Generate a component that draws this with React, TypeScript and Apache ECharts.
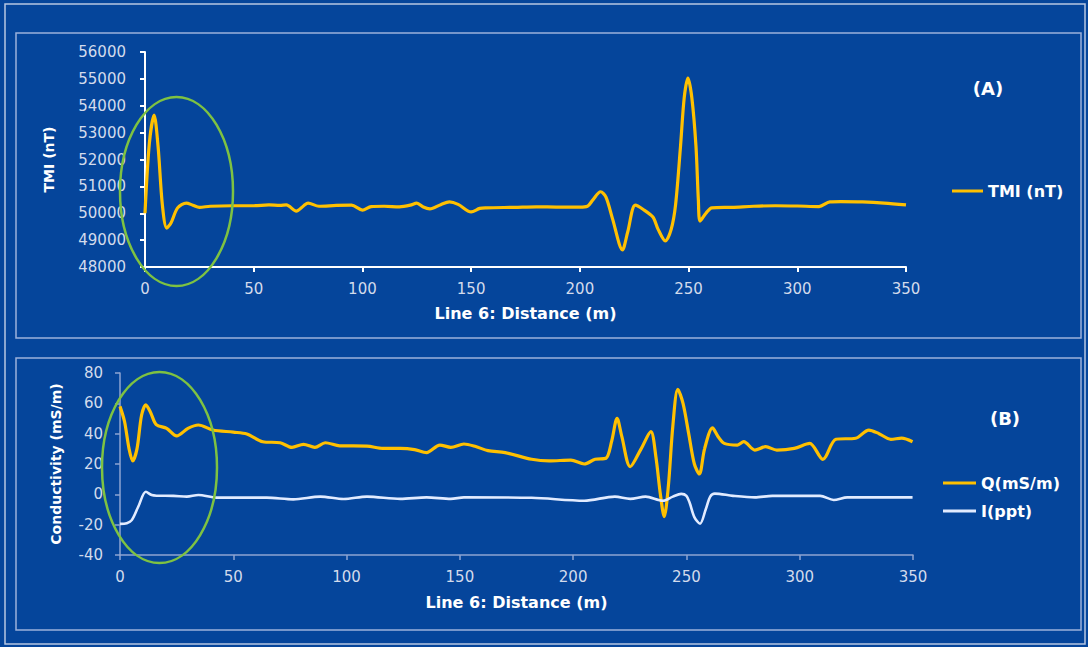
import React, { useEffect, useRef } from "react";
import * as echarts from "echarts";

// ---------- Data ----------
const tmiDist = [0, 2, 4.2, 6, 8, 10, 12, 15, 19, 22, 25, 30, 40, 50, 57, 62, 65, 69.6, 73, 75, 80, 88, 95, 100, 104, 110, 117, 122, 125, 128, 131, 136, 140, 144, 150, 154, 157, 170, 180, 190, 200, 203.5, 206, 209.5, 212, 215, 219.6, 222, 225.5, 229, 233.6, 236, 239.3, 242, 244, 246.3, 248, 249.7, 251.5, 253.4, 254.5, 255.3, 258, 260.7, 270, 280, 290, 300, 310, 315, 320, 330, 340, 350];
const tmiVals = [50000, 52600, 53650, 52500, 50300, 49450, 49650, 50200, 50380, 50300, 50220, 50260, 50280, 50280, 50310, 50290, 50310, 50080, 50280, 50380, 50260, 50290, 50300, 50120, 50250, 50260, 50240, 50300, 50380, 50230, 50160, 50320, 50420, 50330, 50050, 50180, 50200, 50220, 50240, 50230, 50230, 50260, 50500, 50800, 50600, 49800, 48640, 49300, 50300, 50150, 49860, 49400, 48970, 49400, 50300, 52500, 54300, 55030, 54300, 52500, 50500, 49710, 50000, 50200, 50220, 50260, 50280, 50270, 50250, 50420, 50430, 50420, 50380, 50310];

const qDist = [0, 2, 4, 5.6, 7.5, 9.5, 11.4, 13.5, 16, 20.6, 25, 30, 34.6, 41, 50, 56, 63, 70.7, 75.9, 81, 86, 90.6, 97, 109, 116, 123.7, 130, 135.3, 141.2, 146, 151.8, 157, 162.4, 170, 181.7, 189.4, 199, 204.9, 209.7, 214.5, 217, 219.4, 221.5, 225.2, 230, 234.3, 236.5, 238.5, 240.2, 242, 244, 246.2, 248.5, 251, 253.5, 255.7, 258, 261.5, 264, 266.7, 272.5, 275.3, 280.2, 285, 289.9, 297.6, 304.4, 310.2, 316, 324.7, 330.5, 335, 340.2, 345, 349.8];
const qVals = [58, 48, 30, 22, 30, 52, 59, 54, 46, 43.5, 38.5, 43.5, 45.7, 42.4, 41, 39.8, 34.7, 34, 31, 33, 31, 34, 32, 31.8, 30.3, 30.3, 29.5, 27.5, 32.5, 31, 33.2, 31.5, 28.8, 27.5, 23.1, 22, 22.6, 20, 23.1, 23.8, 35, 50.1, 38, 18.2, 30, 41.3, 25, 0, -14.7, 5, 45, 69.3, 60, 40, 20, 13.4, 30, 43.8, 38, 33.6, 32.5, 34.7, 29.2, 31.4, 29.2, 30.3, 33.6, 23.1, 36.3, 37, 42.4, 40, 36.3, 37, 34.7];

const iDist = [0, 3, 5.2, 8.1, 11.4, 14, 16.2, 23.6, 29.5, 34.6, 42.6, 64.8, 76.5, 88.4, 98.7, 109, 123.7, 135.3, 146, 151.8, 181.7, 204.9, 218.4, 225.2, 232, 239.6, 244, 247.7, 250, 251.5, 253.5, 256, 258.5, 260.5, 262.5, 270.6, 280.2, 287.9, 309, 315, 321, 349.8];
const iVals = [-19.5, -19, -17, -8, 1.7, -0.5, -0.9, -1, -1.5, -0.4, -2.2, -2.2, -3.3, -1.5, -3.1, -1.5, -3, -2, -3, -2, -2.3, -4.2, -1.5, -3, -1.5, -4.2, -1.5, 0.3, -1, -5.9, -15, -19.4, -10, -1.5, 0.5, -1, -2, -1, -1, -3.7, -2, -2];

const xTicks = { min: 0, max: 350, interval: 50 };
const tmiAxis = { min: 48000, max: 56000, interval: 1000 };
const condAxis = { min: -40, max: 80, interval: 20 };

const seriesNames = { tmi: "TMI (nT)", q: "Q(mS/m)", i: "I(ppt)" };
const panelLabels = ["(A)", "(B)"];
const xTitle = "Line 6: Distance (m)";
const yTitles = ["TMI (nT)", "Conductivity (mS/m)"];

const pairs = (xs: number[], ys: number[]) => xs.map((x, k) => [x, ys[k]]);

// ---------- Styles ----------
const BG = "#05459b";
const GOLD = "#ffc000";
const WHITE_LINE = "#e2ebff";
const TICK_COLOR = "#d3dbec";
const FONT = "DejaVu Sans";

export default function App() {
  const ref = useRef<HTMLDivElement>(null);

  useEffect(() => {
    if (!ref.current) return;
    const chart = echarts.init(ref.current, undefined, { renderer: "svg" });

    const tickLabel = { color: TICK_COLOR, fontSize: 15, fontFamily: FONT };
    const titleStyle = { color: "#ffffff", fontWeight: "bold" as const, fontFamily: FONT };

    chart.setOption({
      animation: false,
      backgroundColor: BG,
      grid: [
        { left: 145, right: 182, top: 52, height: 215 },
        { left: 120, right: 175, top: 373, height: 182 },
      ],
      xAxis: [
        {
          type: "value", gridIndex: 0, ...xTicks,
          name: xTitle, nameLocation: "middle", nameGap: 38,
          nameTextStyle: { ...titleStyle, fontSize: 16 },
          axisLine: { show: true, onZero: false, lineStyle: { color: "#ffffff", width: 2 } },
          axisTick: { show: true, length: 5, lineStyle: { color: "#ffffff", width: 2 } },
          axisLabel: { ...tickLabel, margin: 14 },
          splitLine: { show: false },
        },
        {
          type: "value", gridIndex: 1, ...xTicks,
          name: xTitle, nameLocation: "middle", nameGap: 39,
          nameTextStyle: { ...titleStyle, fontSize: 16 },
          axisLine: { show: true, onZero: false, lineStyle: { color: "#8ea4d2", width: 1.5 } },
          axisTick: { show: true, length: 5, lineStyle: { color: "#8ea4d2", width: 1.5 } },
          axisLabel: { ...tickLabel, margin: 14 },
          splitLine: { show: false },
        },
      ],
      yAxis: [
        {
          type: "value", gridIndex: 0, ...tmiAxis,
          name: yTitles[0], nameLocation: "middle", nameGap: 89,
          nameTextStyle: { ...titleStyle, fontSize: 14 },
          axisLine: { show: true, lineStyle: { color: "#ffffff", width: 2 } },
          axisTick: { show: true, length: 5, lineStyle: { color: "#ffffff", width: 2 } },
          axisLabel: { ...tickLabel, margin: 19, formatter: (v: number) => String(v) },
          splitLine: { show: false },
        },
        {
          type: "value", gridIndex: 1, ...condAxis,
          name: yTitles[1], nameLocation: "middle", nameGap: 57,
          nameTextStyle: { ...titleStyle, fontSize: 14 },
          axisLine: { show: true, lineStyle: { color: "#8ea4d2", width: 1.5 } },
          axisTick: { show: true, length: 5, lineStyle: { color: "#8ea4d2", width: 1.5 } },
          axisLabel: { ...tickLabel, margin: 17, formatter: (v: number) => String(v) },
          splitLine: { show: false },
        },
      ],
      legend: [
        {
          data: [seriesNames.tmi], left: 947, top: 178, orient: "vertical",
          icon: "rect", itemWidth: 31, itemHeight: 3,
          textStyle: { ...titleStyle, fontSize: 16 },
        },
        {
          data: [seriesNames.q, seriesNames.i], left: 938, top: 470, orient: "vertical",
          icon: "rect", itemWidth: 33, itemHeight: 3, itemGap: 12,
          textStyle: { ...titleStyle, fontSize: 16 },
        },
      ],
      series: [
        {
          name: seriesNames.tmi, type: "line", xAxisIndex: 0, yAxisIndex: 0,
          data: pairs(tmiDist, tmiVals), symbol: "none", smooth: 0.3,
          lineStyle: { color: GOLD, width: 3.2 }, itemStyle: { color: GOLD },
        },
        {
          name: seriesNames.q, type: "line", xAxisIndex: 1, yAxisIndex: 1,
          data: pairs(qDist, qVals), symbol: "none", smooth: 0.3,
          lineStyle: { color: GOLD, width: 3.2 }, itemStyle: { color: GOLD },
        },
        {
          name: seriesNames.i, type: "line", xAxisIndex: 1, yAxisIndex: 1,
          data: pairs(iDist, iVals), symbol: "none", smooth: 0.3,
          lineStyle: { color: WHITE_LINE, width: 2.6 }, itemStyle: { color: WHITE_LINE },
        },
      ],
      graphic: [
        { type: "rect", silent: true, shape: { x: 5, y: 4, width: 1080, height: 640 }, style: { fill: "none", stroke: "#b7c6e2", lineWidth: 1.5 } },
        { type: "rect", silent: true, shape: { x: 16, y: 33, width: 1065, height: 305 }, style: { fill: "none", stroke: "#9cb1dc", lineWidth: 1.5 } },
        { type: "rect", silent: true, shape: { x: 16, y: 358, width: 1065, height: 272 }, style: { fill: "none", stroke: "#9cb1dc", lineWidth: 1.5 } },
        { type: "ellipse", silent: true, z: 100, shape: { cx: 176.5, cy: 191.5, rx: 56.5, ry: 94.5 }, style: { fill: "none", stroke: "#7ec242", lineWidth: 2.5 } },
        { type: "ellipse", silent: true, z: 100, shape: { cx: 159.5, cy: 467.5, rx: 57.5, ry: 95.5 }, style: { fill: "none", stroke: "#7ec242", lineWidth: 2.5 } },
        { type: "text", silent: true, x: 988, y: 88, style: { text: panelLabels[0], fill: "#ffffff", font: `bold 18px '${FONT}'`, textAlign: "center", textVerticalAlign: "middle" } },
        { type: "text", silent: true, x: 1005, y: 418, style: { text: panelLabels[1], fill: "#ffffff", font: `bold 18px '${FONT}'`, textAlign: "center", textVerticalAlign: "middle" } },
      ],
    });

    return () => chart.dispose();
  }, []);

  return (
    <div
      ref={ref}
      style={{ position: "fixed", left: 0, top: 0, width: 1088, height: 647, background: BG }}
    />
  );
}
